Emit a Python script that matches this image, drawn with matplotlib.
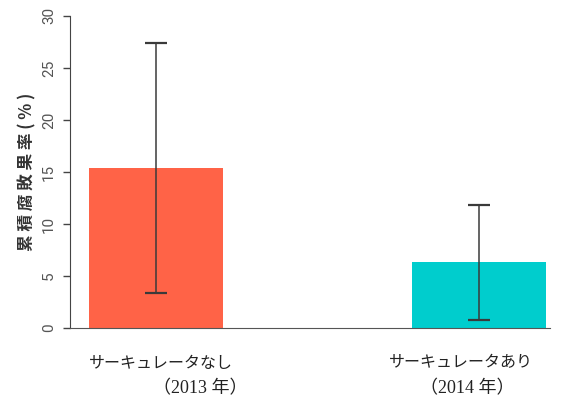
#!/usr/bin/env python3
# -*- coding=utf-8 -*-
from matplotlib import pyplot as plt

plt.rcParams['font.family'] = ['Noto Sans CJK JP', 'DejaVu Sans']

# 累積腐敗果率の平均と誤差
names = ['サーキュレータなし', 'サーキュレータあり']
years = ['（2013 年）', '（2014 年）']
rates = [15.4, 6.3]
errors = [12.0, 5.5]
colors = ['#FF6347', '#00CDCD']
yticks = [0, 5, 10, 15, 20, 25, 30]

fig = plt.figure(figsize=(5.72, 4.07), dpi=100)
ax = fig.add_axes([0.1224, 0.194, 0.839, 0.767])

x = [0, 1]
ax.bar(x, rates, width=0.414, color=colors, zorder=1)
ax.errorbar(x, rates, yerr=errors, fmt='none', ecolor='#3a3a3a',
            elinewidth=1.1, capsize=8, capthick=1.6, zorder=2)

ax.set_xlim(-0.266, 1.22)
ax.set_ylim(0, 30)
ax.set_yticks(yticks)
ax.set_yticklabels([str(t) for t in yticks], rotation=90, va='center',
                   fontsize=11, color='#555555',
                   family=['Roboto', 'DejaVu Sans'])
ax.tick_params(axis='y', length=5, width=1, color='#444444', pad=5)
ax.set_ylabel('累 積 腐 敗 果 率 ( % )', fontsize=12, color='#333333',
              fontweight='bold', labelpad=4)

# x軸の目盛りは消して、ラベルは2段に分けて置く
ax.set_xticks([])
name_dx = [5, -18]
year_dx = [44, -12]
for i in range(len(x)):
    ax.annotate(names[i], xy=(x[i], 0), xycoords=('data', 'axes fraction'),
                xytext=(name_dx[i], -35), textcoords='offset pixels',
                ha='center', va='center', fontsize=11.5, color='#222222')
    ax.annotate(years[i], xy=(x[i], 0), xycoords=('data', 'axes fraction'),
                xytext=(year_dx[i], -61), textcoords='offset pixels',
                ha='center', va='center', fontsize=13, color='#222222',
                family=['Liberation Serif', 'Noto Sans CJK JP'])

for side in ['top', 'right']:
    ax.spines[side].set_visible(False)
ax.spines['left'].set_color('#444444')
ax.spines['bottom'].set_color('#555555')

plt.savefig('out.png', dpi=100)
